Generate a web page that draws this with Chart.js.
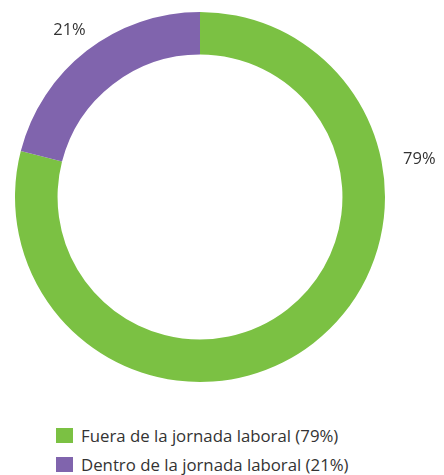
<!DOCTYPE html>
<html>
<head>
<meta charset="utf-8">
<script src="https://cdn.jsdelivr.net/npm/chart.js@4"></script>
<style>
  html, body { margin: 0; padding: 0; background: #fff; }
  #wrap { position: relative; width: 444px; height: 475px; }
  #chart { position: absolute; left: 0; top: 0; }
  #legend { position: absolute; left: 56px; top: 421px; font-family: "Open Sans", sans-serif; font-size: 16.8px; color: #333; }
  .item { display: flex; align-items: center; height: 29px; }
  .sw { width: 17px; height: 15px; margin-right: 8px; }
</style>
</head>
<body>
<div id="wrap">
  <canvas id="chart" width="444" height="400"></canvas>
  <div id="legend"></div>
</div>
<script>
const categories = ["Fuera de la jornada laboral", "Dentro de la jornada laboral"];
const shares = [79, 21];
const colors = ["#7bc143", "#8064ad"];

// Percentage labels placed outside the ring, along each arc
const outerLabels = {
  id: "outerLabels",
  afterDatasetsDraw(chart, args, opts) {
    const ctx = chart.ctx;
    const meta = chart.getDatasetMeta(0);
    ctx.save();
    ctx.font = "16.5px 'Open Sans', sans-serif";
    ctx.fillStyle = "#333";
    ctx.textAlign = "center";
    ctx.textBaseline = "middle";
    meta.data.forEach((arc, i) => {
      const p = arc.getProps(["x", "y", "startAngle", "endAngle", "outerRadius"], true);
      const f = opts.along[i];
      const a = p.startAngle + (p.endAngle - p.startAngle) * f;
      const r = p.outerRadius + opts.offset[i];
      ctx.fillText(shares[i] + "%", p.x + Math.cos(a) * r, p.y + Math.sin(a) * r + 2);
    });
    ctx.restore();
  }
};

new Chart(document.getElementById("chart"), {
  type: "doughnut",
  data: {
    labels: categories,
    datasets: [{ data: shares, backgroundColor: colors, borderWidth: 0 }]
  },
  options: {
    responsive: false,
    animation: false,
    cutout: "77%",
    layout: { padding: { left: 15, right: 59, top: 12, bottom: 18 } },
    plugins: {
      legend: { display: false },
      tooltip: { enabled: false },
      outerLabels: { along: [0.28, 0.5], offset: [38, 28] }
    }
  },
  plugins: [outerLabels]
});

const legend = document.getElementById("legend");
categories.forEach((c, i) => {
  const row = document.createElement("div");
  row.className = "item";
  row.innerHTML = '<span class="sw" style="background:' + colors[i] + '"></span><span>' + c + " (" + shares[i] + "%)</span>";
  legend.appendChild(row);
});
</script>
</body>
</html>
